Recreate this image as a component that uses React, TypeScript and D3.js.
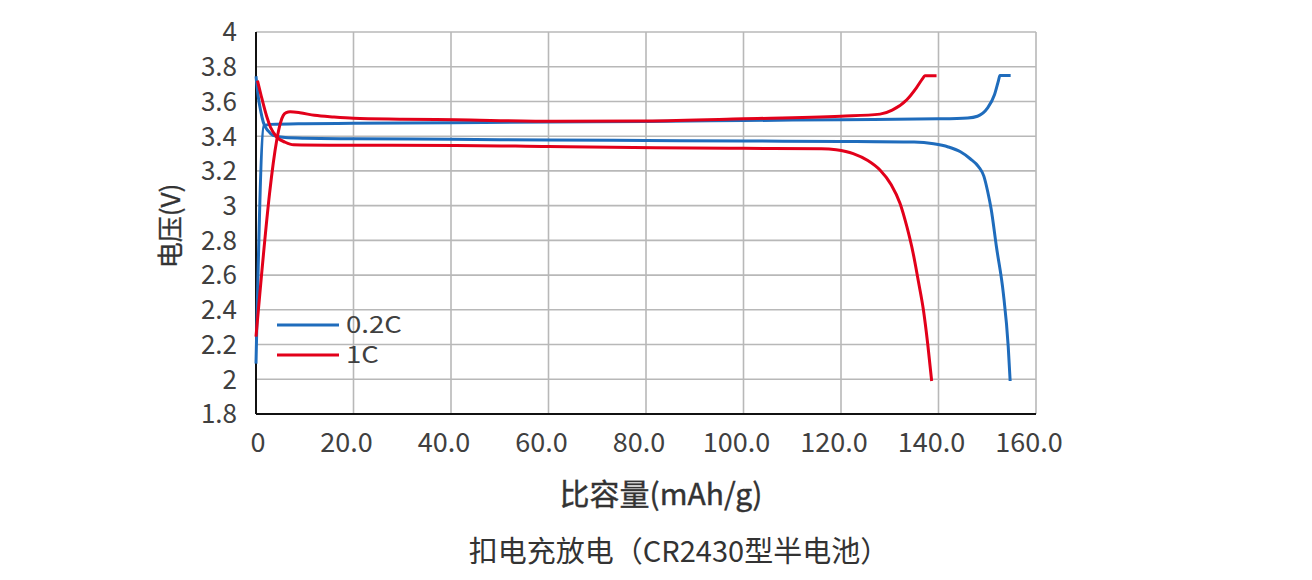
import { useEffect, useRef } from 'react';
import * as d3 from 'd3';

// capacity (mAh/g), voltage (V)
const chargeBlue: [number, number][] = [
  [0, 2.09], [1.6, 3.46], [3, 3.468], [10, 3.472], [20, 3.474], [40, 3.478],
  [60, 3.482], [80, 3.485], [100, 3.49], [120, 3.495], [140, 3.5], [146, 3.505],
  [148, 3.515], [150, 3.56], [151.5, 3.64], [152.3, 3.72], [152.6, 3.75], [154.8, 3.75],
];
const dischargeBlue: [number, number][] = [
  [0, 3.745], [0.5, 3.62], [1, 3.54], [1.5, 3.48], [2.5, 3.43], [3.5, 3.405],
  [6, 3.392], [10, 3.388], [20, 3.385], [40, 3.382], [60, 3.378], [80, 3.375],
  [100, 3.372], [120, 3.37], [135, 3.366], [139, 3.356], [142, 3.338], [144.5, 3.31],
  [146.5, 3.27], [148.2, 3.225], [149.3, 3.17], [150.1, 3.08], [150.8, 2.98],
  [151.9, 2.76], [153.3, 2.495], [154.3, 2.19], [154.7, 1.99],
];
const chargeRed: [number, number][] = [
  [0, 2.245], [5.6, 3.52], [6.2, 3.535], [7, 3.54], [9, 3.535], [12, 3.52],
  [16, 3.51], [20, 3.503], [30, 3.498], [41, 3.494], [61.5, 3.486], [80, 3.488],
  [100, 3.5], [120, 3.515], [128, 3.527], [130.5, 3.55], [133.5, 3.61],
  [135.5, 3.68], [136.7, 3.73], [137.2, 3.748], [139.6, 3.748],
];
const dischargeRed: [number, number][] = [
  [0.3, 3.72], [1, 3.64], [2.2, 3.513], [3, 3.45], [4.2, 3.397], [6, 3.365],
  [7.7, 3.35], [15, 3.348], [41, 3.347], [60, 3.34], [82, 3.333], [100, 3.33],
  [116, 3.328], [119, 3.322], [122.5, 3.3], [125.5, 3.26], [128, 3.205],
  [130.3, 3.12], [132.1, 3.014], [133.5, 2.88], [134.8, 2.726], [135.9, 2.56],
  [136.9, 2.4], [137.8, 2.2], [138.6, 1.99],
];

const series = [
  { name: '0.2C', color: '#1f6cbc', curves: [chargeBlue, dischargeBlue] },
  { name: '1C', color: '#e2001a', curves: [chargeRed, dischargeRed] },
];

const yTicks = [1.8, 2, 2.2, 2.4, 2.6, 2.8, 3, 3.2, 3.4, 3.6, 3.8, 4];
const yTickLabels = ['1.8', '2', '2.2', '2.4', '2.6', '2.8', '3', '3.2', '3.4', '3.6', '3.8', '4'];
const xTicks = [0, 20, 40, 60, 80, 100, 120, 140, 160];
const xTickLabels = ['0', '20.0', '40.0', '60.0', '80.0', '100.0', '120.0', '140.0', '160.0'];

const xTitle = '比容量(mAh/g)';
const yTitle = '电压(V)';
const caption = '扣电充放电（CR2430型半电池）';

const W = 1312;
const H = 580;
const margin = { top: 32, right: 276, bottom: 166, left: 256 };
const FONT = 'Noto Sans CJK SC, Noto Sans, sans-serif';

export default function App() {
  const svgRef = useRef<SVGSVGElement>(null);

  useEffect(() => {
    if (!svgRef.current) return;
    const svg = d3.select(svgRef.current);
    svg.selectAll('*').remove();

    const innerW = W - margin.left - margin.right;
    const innerH = H - margin.top - margin.bottom;

    const x = d3.scaleLinear().domain([0, 160]).range([0, innerW]);
    const y = d3.scaleLinear().domain([1.8, 4]).range([innerH, 0]);

    svg.append('rect').attr('width', W).attr('height', H).attr('fill', '#fff');

    const g = svg.append('g').attr('transform', `translate(${margin.left},${margin.top})`);

    // grid
    g.append('g')
      .selectAll('line')
      .data(yTicks.slice(1))
      .join('line')
      .attr('x1', 0)
      .attr('x2', innerW)
      .attr('y1', d => y(d))
      .attr('y2', d => y(d))
      .attr('stroke', '#b8b8b8')
      .attr('stroke-width', 1.6);

    g.append('g')
      .selectAll('line')
      .data(xTicks.slice(1))
      .join('line')
      .attr('x1', d => x(d))
      .attr('x2', d => x(d))
      .attr('y1', 0)
      .attr('y2', innerH)
      .attr('stroke', '#b8b8b8')
      .attr('stroke-width', 1.6);

    // axis lines
    g.append('line')
      .attr('x1', 0).attr('x2', 0).attr('y1', 0).attr('y2', innerH)
      .attr('stroke', '#111').attr('stroke-width', 2);
    g.append('line')
      .attr('x1', 0).attr('x2', innerW).attr('y1', innerH).attr('y2', innerH)
      .attr('stroke', '#111').attr('stroke-width', 2);

    // tick labels
    g.append('g')
      .selectAll('text')
      .data(yTicks)
      .join('text')
      .attr('x', -19)
      .attr('y', d => y(d))
      .attr('dy', '0.36em')
      .attr('text-anchor', 'end')
      .attr('font-family', FONT)
      .attr('font-size', 26)
      .attr('fill', '#404040')
      .text((_, i) => yTickLabels[i]);

    g.append('g')
      .selectAll('text')
      .data(xTicks)
      .join('text')
      .attr('x', d => x(d) + (d === 0 ? 2 : -7))
      .attr('y', innerH + 38)
      .attr('text-anchor', 'middle')
      .attr('font-family', FONT)
      .attr('font-size', 27)
      .attr('fill', '#404040')
      .text((_, i) => xTickLabels[i]);

    // curves
    const line = d3.line<[number, number]>()
      .x(d => x(d[0]))
      .y(d => y(d[1]))
      .curve(d3.curveMonotoneX);

    series.forEach(s => {
      s.curves.forEach(c => {
        g.append('path')
          .datum(c)
          .attr('fill', 'none')
          .attr('stroke', s.color)
          .attr('stroke-width', 3)
          .attr('stroke-linejoin', 'round')
          .attr('d', line);
      });
    });

    // legend
    series.forEach((s, i) => {
      const ly = 293 + i * 30;
      g.append('line')
        .attr('x1', 21).attr('x2', 83).attr('y1', ly).attr('y2', ly)
        .attr('stroke', s.color).attr('stroke-width', 3);
      g.append('text')
        .attr('transform', `translate(90,${ly}) scale(1.2,1)`)
        .attr('dy', '0.36em')
        .attr('font-family', FONT)
        .attr('font-size', 23)
        .attr('fill', '#404040')
        .text(s.name);
    });

    // titles
    svg.append('text')
      .attr('x', 661).attr('y', 494).attr('dy', '0.36em')
      .attr('text-anchor', 'middle')
      .attr('font-family', FONT)
      .attr('font-size', 30)
      .attr('fill', '#333')
      .attr('stroke', '#333')
      .attr('stroke-width', 0.4)
      .text(xTitle);

    svg.append('text')
      .attr('transform', `translate(171,226) rotate(-90)`)
      .attr('dy', '0.36em')
      .attr('text-anchor', 'middle')
      .attr('font-family', FONT)
      .attr('font-size', 26)
      .attr('fill', '#333')
      .attr('stroke', '#333')
      .attr('stroke-width', 0.3)
      .text(yTitle);

    svg.append('text')
      .attr('x', 679).attr('y', 552).attr('dy', '0.36em')
      .attr('text-anchor', 'middle')
      .attr('font-family', FONT)
      .attr('font-size', 29)
      .attr('fill', '#333')
      .text(caption);
  }, []);

  return (
    <svg
      ref={svgRef}
      width={W}
      height={H}
      style={{ position: 'absolute', left: 0, top: 0 }}
    />
  );
}
